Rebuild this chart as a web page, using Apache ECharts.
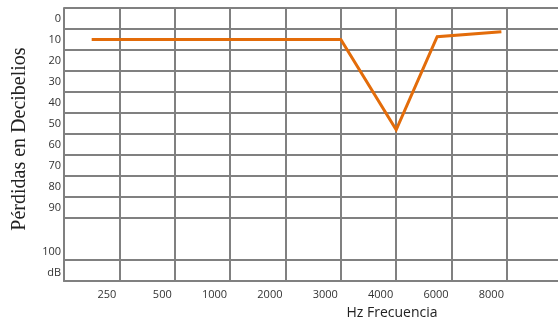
<!DOCTYPE html>
<html>
<head>
<meta charset="utf-8">
<script src="https://cdn.jsdelivr.net/npm/echarts@6/dist/echarts.min.js"></script>
<style>html,body{margin:0;padding:0;background:#fff;overflow:hidden}#c{width:580px;height:322px}</style>
</head>
<body>
<div id="c"></div>
<script>
// Frequency tick labels (placed at the right end of each column)
const freqLabels = ['250', '500', '1000', '2000', '3000', '4000', '6000', '8000'];
// Column boundaries (vertical grid lines) in column units
const columnLines = [0, 1, 2, 3, 4, 5, 6, 7, 8];
// Horizontal grid lines in dB (the 100 band is double height, no line at 105)
const dbLines = [-5, 5, 15, 25, 35, 45, 55, 65, 75, 85, 95, 115, 125];
// Y tick labels and their dB positions
const dbLabels = ['0', '10', '20', '30', '40', '50', '60', '70', '80', '90', '100', 'dB'];
const dbLabelPos = [0, 10, 20, 30, 40, 50, 60, 70, 80, 90, 111, 121];
// Hearing curve: horizontal position (column units) and loss in dB
const curveX = [0.5, 5.0, 6.0, 6.74, 7.9];
const curveDb = [10, 10, 53, 8.7, 6.3];

const chart = echarts.init(document.getElementById('c'), null, {renderer: 'canvas'});
const gridColor = '#808080';
const labelFont = 'Open Sans';
chart.setOption({
  animation: false,
  grid: {left: 64, top: 8, right: 0, bottom: 41, containLabel: false},
  xAxis: {
    type: 'value',
    min: 0,
    max: 9.32,
    interval: 1,
    axisLine: {show: true, onZero: false, lineStyle: {color: gridColor, width: 2}},
    axisTick: {show: false, customValues: columnLines},
    splitLine: {show: true, lineStyle: {color: gridColor, width: 2}},
    axisLabel: {
      customValues: [1, 2, 3, 4, 5, 6, 7, 8],
      formatter: v => freqLabels[Math.round(v) - 1] || '',
      align: 'right',
      padding: [0, 3, 0, 0],
      margin: 8,
      color: '#333',
      fontFamily: labelFont,
      fontSize: 11
    }
  },
  yAxis: {
    type: 'value',
    inverse: true,
    min: -5,
    max: 125,
    axisLine: {show: true, onZero: false, lineStyle: {color: gridColor, width: 2}},
    axisTick: {show: false, customValues: dbLines},
    splitLine: {show: true, lineStyle: {color: gridColor, width: 2}},
    axisLabel: {
      customValues: dbLabelPos,
      formatter: v => dbLabels[dbLabelPos.indexOf(v)] || '',
      margin: 3,
      padding: [3, 0, 0, 0],
      color: '#333',
      fontFamily: labelFont,
      fontSize: 11
    }
  },
  series: [{
    type: 'line',
    data: curveX.map((x, i) => [x, curveDb[i]]),
    symbol: 'none',
    lineStyle: {color: '#E36C0A', width: 3, join: 'miter'},
    z: 5
  }],
  graphic: [
    {
      type: 'text',
      x: 20, y: 139,
      rotation: Math.PI / 2,
      style: {
        text: 'Pérdidas en Decibelios',
        font: '20px "Liberation Serif"',
        fill: '#222',
        align: 'center',
        verticalAlign: 'middle'
      }
    },
    {
      type: 'text',
      x: 392, y: 313,
      style: {
        text: 'Hz Frecuencia',
        font: '14px "Open Sans"',
        fill: '#222',
        align: 'center',
        verticalAlign: 'middle'
      }
    }
  ]
});
</script>
</body>
</html>
